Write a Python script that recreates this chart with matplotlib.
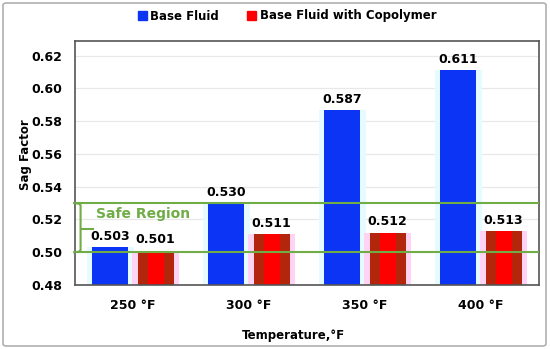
import matplotlib
matplotlib.use("Agg")
import matplotlib.pyplot as plt
import numpy as np
from matplotlib.patches import Patch, FancyBboxPatch
from matplotlib.transforms import blended_transform_factory

categories = ["250 °F", "300 °F", "350 °F", "400 °F"]
base_fluid = [0.503, 0.530, 0.587, 0.611]
with_copolymer = [0.501, 0.511, 0.512, 0.513]
safe_low, safe_high = 0.50, 0.53
yticks = [0.48, 0.50, 0.52, 0.54, 0.56, 0.58, 0.60, 0.62]

BLUE = "#0b34f4"
RED = "#ff0000"
DARK_RED = "#b3260c"
GREEN = "#70ad47"

W, H = 550, 349
fig = plt.figure(figsize=(W / 100, H / 100), dpi=100)

# outer frame
fig.patches.append(FancyBboxPatch((3 / W, 3 / H), 543 / W, 343 / H,
                                  boxstyle="round,pad=0,rounding_size=0.006",
                                  transform=fig.transFigure, fill=False,
                                  edgecolor="#b0b0b0", linewidth=1.2))

ax = fig.add_axes([75 / W, (H - 285) / H, 464 / W, 244 / H])
x = np.arange(len(categories))
bw = 0.31
off = 0.195
halo = 0.40

# faint glow behind bars
ax.bar(x - off, np.array(base_fluid) - 0.48, halo, bottom=0.48, color="#e6fbff", zorder=1)
ax.bar(x + off, np.array(with_copolymer) - 0.48, halo, bottom=0.48, color="#ffd3f3", zorder=1)

ax.bar(x - off, np.array(base_fluid) - 0.48, bw, bottom=0.48, color=BLUE, zorder=2)
ax.bar(x + off, np.array(with_copolymer) - 0.48, bw, bottom=0.48, color=DARK_RED, zorder=2)
ax.bar(x + off, np.array(with_copolymer) - 0.48, 0.14, bottom=0.48, color=RED, zorder=2)

for xi, v in zip(x - off, base_fluid):
    ax.annotate(f"{v:.3f}", (xi, v), xytext=(0, 3), textcoords="offset points",
                ha="center", va="bottom", fontsize=9, fontweight="bold", zorder=5)
for xi, v in zip(x + off, with_copolymer):
    ax.annotate(f"{v:.3f}", (xi, v), xytext=(0, 3), textcoords="offset points",
                ha="center", va="bottom", fontsize=9, fontweight="bold", zorder=5)

# safe region lines and bracket
ax.axhline(safe_low, color=GREEN, lw=1.5, zorder=3)
ax.axhline(safe_high, color=GREEN, lw=1.5, zorder=3)
tr = blended_transform_factory(ax.transAxes, ax.transData)
mid = (safe_low + safe_high) / 2 - 0.0005
ax.plot([-0.002, 0.008, 0.012, 0.012, 0.008, -0.002],
        [safe_high, safe_high - 0.0003, safe_high - 0.0012,
         safe_low + 0.0012, safe_low + 0.0003, safe_low],
        color=GREEN, lw=1.5, transform=tr, clip_on=False, zorder=3)
ax.plot([0.012, 0.039], [mid, mid], color=GREEN, lw=1.5, transform=tr, zorder=3)
ax.text(0.045, 0.5234, "Safe Region", color=GREEN, fontsize=10, fontweight="bold",
        va="center", ha="left", transform=tr, zorder=5)

ax.set_xlim(-0.5, len(categories) - 0.5)
ax.set_ylim(0.48, 0.629)
ax.set_yticks(yticks)
ax.set_yticklabels([f"{t:.2f}" for t in yticks], fontsize=9, fontweight="bold")
ax.set_xticks(x)
ax.set_xticklabels(categories, fontsize=9, fontweight="bold")
ax.tick_params(axis="y", length=0, pad=9)
ax.tick_params(axis="x", length=0, pad=10)
ax.grid(axis="y", color="#e8e8e8", lw=0.9, zorder=0)
ax.set_axisbelow(True)
for s in ax.spines.values():
    s.set_color("#555555")
    s.set_linewidth(1.2)

fig.text(26 / W, 1 - 155 / H, "Sag Factor", rotation=90, ha="center", va="center",
         fontsize=8.5, fontweight="bold")
fig.text(293 / W, 1 - 335 / H, "Temperature,°F", ha="center", va="center",
         fontsize=8.5, fontweight="bold")

handles = [Patch(color=BLUE, label="Base Fluid"),
           Patch(color=RED, label="Base Fluid with Copolymer")]
fig.legend(handles=handles, loc="center", bbox_to_anchor=(287 / W, 1 - 16 / H), ncol=2,
           frameon=False, prop={"size": 8.5, "weight": "bold"}, handlelength=0.75,
           handleheight=0.75, handletextpad=0.3, columnspacing=2.4)

fig.savefig("out.png", dpi=100)
